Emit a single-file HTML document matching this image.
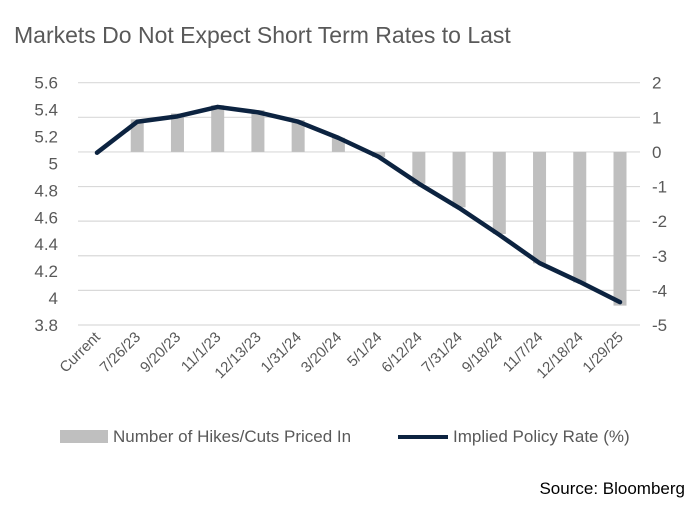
<!DOCTYPE html>
<html><head><meta charset="utf-8"><style>
body{margin:0;background:#fff;font-family:"Liberation Sans",sans-serif;}
svg text{font-family:"Liberation Sans",sans-serif;}
</style></head><body>
<svg id="c" width="700" height="510">
<text x="14" y="43" font-size="23" fill="#595959">Markets Do Not Expect Short Term Rates to Last</text>
<g id="grid"></g><g id="bars"></g><g id="line"></g><g id="yl"></g><g id="yr"></g><g id="xl"></g>
<g>
<rect x="60" y="430" width="48" height="13" fill="#bfbfbf"/>
<text x="113" y="442" font-size="17" fill="#595959">Number of Hikes/Cuts Priced In</text>
<line x1="398" y1="437" x2="448" y2="437" stroke="#0c2340" stroke-width="4"/>
<text x="453" y="442" font-size="17" fill="#595959">Implied Policy Rate (%)</text>
</g>
<text x="685" y="494" font-size="17" fill="#000" text-anchor="end">Source: Bloomberg</text>
</svg>
<script>
const categories=["Current","7/26/23","9/20/23","11/1/23","12/13/23","1/31/24","3/20/24","5/1/24","6/12/24","7/31/24","9/18/24","11/7/24","12/18/24","1/29/25"];
const hikesCuts=[0,0.94,1.11,1.35,1.21,0.92,0.41,-0.15,-0.92,-1.6,-2.37,-3.22,-3.77,-4.44];
const policyRate=[5.08,5.31,5.35,5.42,5.38,5.31,5.19,5.05,4.85,4.67,4.47,4.26,4.12,3.97];
const leftTicks=[5.6,5.4,5.2,5,4.8,4.6,4.4,4.2,4,3.8];
const rightTicks=[2,1,0,-1,-2,-3,-4,-5];
const NS="http://www.w3.org/2000/svg";
const plotTop=82.7,plotBot=325,x0=78,x1=640;
const yL=v=>plotTop+(5.6-v)/1.8*(plotBot-plotTop);
const yR=v=>plotTop+(2-v)/7*(plotBot-plotTop);
const xC=i=>97+i*(620-97)/(categories.length-1);
function mk(p,t,a){const e=document.createElementNS(NS,t);for(const k in a)e.setAttribute(k,a[k]);document.getElementById(p).appendChild(e);return e;}
rightTicks.forEach(v=>{const e=mk('grid','line',{x1:x0,x2:x1,y1:yR(v),y2:yR(v),stroke:'#d9d9d9','stroke-width':1.2});


const t=mk('yr','text',{x:652,y:yR(v)+6,'font-size':17,fill:'#595959'});t.textContent=v;

});
leftTicks.forEach(v=>{const t=mk('yl','text',{x:58,y:yL(v)+6,'font-size':17,fill:'#595959','text-anchor':'end'});t.textContent=v;

});
hikesCuts.forEach((v,i)=>{const a=yR(0),b=yR(v);const r=mk('bars','rect',{x:xC(i)-6.5,y:Math.min(a,b),width:13,height:Math.abs(b-a),fill:'#bfbfbf'});

});
const pl=mk('line','polyline',{points:policyRate.map((v,i)=>xC(i)+','+yL(v)).join(' '),fill:'none',stroke:'#0c2340','stroke-width':4.5,'stroke-linejoin':'round','stroke-linecap':'round'});


categories.forEach((c,i)=>{const x=xC(i)+4,y=338;const t=mk('xl','text',{x:x,y:y,'font-size':15,fill:'#595959','text-anchor':'end',transform:`rotate(-45 ${x} ${y})`});t.textContent=c;

});
</script>
</body></html>
